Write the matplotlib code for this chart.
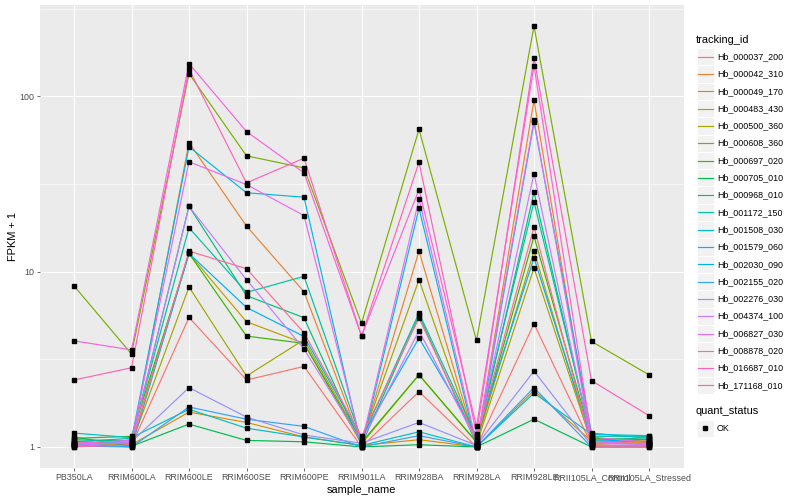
import matplotlib
matplotlib.use("Agg")
import matplotlib.pyplot as plt
from matplotlib.patches import Rectangle
from matplotlib.lines import Line2D
import numpy as np

plt.rcParams['font.family'] = ['Liberation Sans', 'DejaVu Sans']

samples = ['PB350LA', 'RRIM600LA', 'RRIM600LE', 'RRIM600SE', 'RRIM600PE',
           'RRIM901LA', 'RRIM928BA', 'RRIM928LA', 'RRIM928LE',
           'RRII105LA_Control', 'RRII105LA_Stressed']

tracking_ids = ['Hb_000037_200', 'Hb_000042_310', 'Hb_000049_170', 'Hb_000483_430',
                'Hb_000500_360', 'Hb_000608_360', 'Hb_000697_020', 'Hb_000705_010',
                'Hb_000968_010', 'Hb_001172_150', 'Hb_001508_030', 'Hb_001579_060',
                'Hb_002030_090', 'Hb_002155_020', 'Hb_002276_030', 'Hb_004374_100',
                'Hb_006827_030', 'Hb_008878_020', 'Hb_016687_010', 'Hb_171168_010']

# FPKM + 1, one row per tracking_id, one column per sample
fpkm_plus1 = [
    [1.05, 1.02, 5.48, 2.41, 2.88, 1.00, 2.07, 1.00, 5.05, 1.03, 1.08],
    [1.08, 1.04, 54.5, 18.2, 7.68, 1.05, 13.1, 1.02, 95.0, 1.05, 1.10],
    [1.06, 1.03, 1.58, 1.38, 1.14, 1.02, 1.10, 1.00, 2.10, 1.08, 1.06],
    [1.03, 1.06, 12.7, 5.18, 3.90, 1.04, 2.58, 1.06, 13.1, 1.04, 1.05],
    [1.02, 1.05, 8.18, 2.54, 4.09, 1.08, 9.00, 1.03, 10.5, 1.06, 1.04],
    [8.30, 3.39, 135., 45.8, 39.1, 5.07, 65.0, 4.05, 252., 4.00, 2.58],
    [1.12, 1.15, 12.7, 4.29, 3.90, 1.06, 2.58, 1.07, 15.9, 1.12, 1.10],
    [1.14, 1.01, 1.35, 1.09, 1.07, 1.00, 1.03, 1.00, 1.44, 1.00, 1.00],
    [1.10, 1.08, 23.6, 7.30, 5.46, 1.03, 5.63, 1.04, 28.4, 1.09, 1.13],
    [1.07, 1.12, 17.8, 7.62, 9.40, 1.10, 5.81, 1.14, 25.0, 1.15, 1.15],
    [1.20, 1.13, 1.64, 1.28, 1.14, 1.02, 1.22, 1.00, 2.03, 1.18, 1.16],
    [1.00, 1.10, 51.6, 28.2, 26.6, 1.00, 23.0, 1.00, 71.0, 1.20, 1.12],
    [1.04, 1.00, 12.7, 6.25, 4.27, 1.13, 4.18, 1.16, 12.0, 1.10, 1.07],
    [1.01, 1.00, 1.69, 1.44, 1.31, 1.00, 1.16, 1.00, 2.18, 1.00, 1.00],
    [1.03, 1.07, 2.18, 1.48, 1.17, 1.05, 1.38, 1.02, 2.71, 1.02, 1.02],
    [1.02, 1.06, 23.6, 9.00, 3.62, 1.07, 4.60, 1.08, 36.3, 1.05, 1.03],
    [1.05, 1.09, 42.4, 31.4, 20.9, 1.04, 25.9, 1.05, 73.0, 1.07, 1.04],
    [4.03, 3.58, 154., 63.0, 36.6, 4.29, 29.4, 1.31, 150., 1.14, 1.06],
    [2.41, 2.83, 143., 32.1, 44.4, 4.29, 42.1, 1.19, 166., 2.39, 1.51],
    [1.00, 1.03, 13.1, 10.4, 4.48, 1.15, 5.43, 1.10, 18.0, 1.01, 1.01],
]

# ggplot default hue palette for 20 levels
colors = ["#F8766D", "#EA8331", "#D89000", "#C09B00", "#A3A500", "#7CAE00",
          "#39B600", "#00BB4E", "#00BF7D", "#00C1A3", "#00BFC4", "#00BAE0",
          "#00B0F6", "#35A2FF", "#9590FF", "#C77CFF", "#E76BF3", "#FA62DB",
          "#FF62BC", "#FF6C91"]

W, H = 800, 500
fig = plt.figure(figsize=(8, 5), dpi=100, facecolor='white')


def fx(px):
    return px / W


def fy(py):
    return 1 - py / H


ax = fig.add_axes([fx(39.5), fy(468), fx(644), 463 / H])
ax.set_facecolor('#EBEBEB')
for s in ax.spines.values():
    s.set_visible(False)

x = np.arange(len(samples))
for vals, col in zip(fpkm_plus1, colors):
    ax.plot(x, vals, color=col, lw=0.85, zorder=3)
for vals in fpkm_plus1:
    ax.plot(x, vals, ls='none', marker='s', ms=2.4, color='black', zorder=4)

ax.set_yscale('log')
all_vals = np.array(fpkm_plus1)
lo, hi = np.log10(all_vals.min()), np.log10(all_vals.max())
pad = (hi - lo) * 0.05
ax.set_ylim(10 ** (lo - pad), 10 ** (hi + pad))
ax.set_xlim(-0.6, len(samples) - 0.4)

ax.set_yticks([1, 10, 100])
ax.set_yticklabels(['1', '10', '100'])
ax.set_yticks([10 ** 0.5, 10 ** 1.5, 10 ** 2.5], minor=True)
ax.yaxis.set_minor_formatter(plt.NullFormatter())
ax.set_xticks(x)
ax.set_xticklabels(samples)

ax.grid(True, which='major', color='white', lw=0.8, zorder=0)
ax.grid(True, which='minor', axis='y', color='white', lw=0.4, zorder=0)
ax.set_axisbelow(True)
ax.tick_params(which='major', length=2, width=0.5, color='#333333',
               labelsize=6.4, labelcolor='#4D4D4D', pad=1.5)
ax.tick_params(which='minor', length=0)

ax.set_xlabel('sample_name', fontsize=7.9, color='black', labelpad=2)
ax.set_ylabel('FPKM + 1', fontsize=7.9, color='black', labelpad=1)

# legend: tracking_id
fig.text(fx(696), fy(40), 'tracking_id', fontsize=7.9, va='center', ha='left')
key = 17.3
for i, (tid, col) in enumerate(zip(tracking_ids, colors)):
    cy = 56.7 + key * i
    fig.add_artist(Rectangle((fx(696.5), fy(cy + key / 2)), fx(key), key / H,
                             transform=fig.transFigure, facecolor='#F2F2F2',
                             edgecolor='white', lw=0.7))
    fig.add_artist(Line2D([fx(698), fx(712.5)], [fy(cy), fy(cy)],
                          transform=fig.transFigure, color=col, lw=0.85))
    fig.text(fx(717), fy(cy), tid, fontsize=6.4, va='center', ha='left')

# legend: quant_status
fig.text(fx(696), fy(411.5), 'quant_status', fontsize=7.9, va='center', ha='left')
fig.add_artist(Rectangle((fx(696.5), fy(428.3 + key / 2)), fx(key), key / H,
                         transform=fig.transFigure, facecolor='#F2F2F2',
                         edgecolor='white', lw=0.7))
fig.add_artist(Line2D([fx(705)], [fy(428.3)], transform=fig.transFigure,
                      ls='none', marker='s', ms=2.4, color='black'))
fig.text(fx(717), fy(428.3), 'OK', fontsize=6.4, va='center', ha='left')

fig.savefig('out.png', dpi=100)
